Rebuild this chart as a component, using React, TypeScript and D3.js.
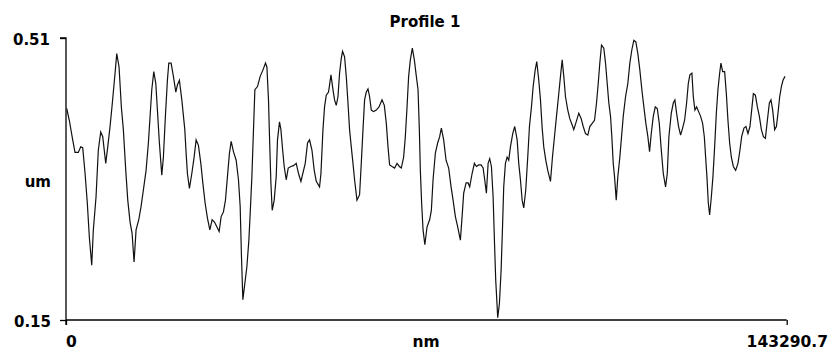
import React, { useRef, useEffect } from 'react';
import * as d3 from 'd3';

const chartTitle = 'Profile 1';
const xUnit = 'nm';
const yUnit = 'um';
const xDomain = [0, 143290.7];
const yDomain = [0.15, 0.51];
const xTickLabels = ['0', '143290.7'];
const yTickLabels = ['0.15', '0.51'];

// sample positions along the profile (nm)
const profileNm = [
  139, 657, 1333, 1791, 2448, 2926, 3324, 3781, 4239, 4637, 5115, 5433, 5970, 6428, 6906, 7304, 7901, 8299, 8757, 9214,
  9752, 10090, 10548, 11006, 11404, 11881, 12279, 12737, 13135, 13533, 13931, 14468, 14926, 15384, 15921, 16379, 16717, 17056, 17454, 17852,
  18250, 18569, 19046, 19365, 19762, 20160, 20439, 20897, 21354, 21832, 22150, 22548, 23026, 23623, 23882, 24141, 24539, 25016, 25474, 25872,
  26330, 26807, 27205, 27663, 28121, 28598, 29056, 29514, 29991, 30449, 30847, 31305, 31703, 32101, 32499, 32837, 33295, 33833, 34290, 34629,
  34887, 35166, 35564, 35962, 36360, 36619, 36957, 37276, 37554, 38072, 38609, 39147, 39664, 39943, 40261, 40460, 40739, 40997, 41395, 41793,
  42052, 42450, 42729, 43047, 43385, 43783, 44181, 44719, 45236, 45773, 46231, 46709, 47565, 48022, 48420, 48898, 49356, 49754, 50411, 50689,
  51087, 51406, 51744, 52202, 52680, 53078, 53396, 53734, 54073, 54391, 54729, 54988, 55386, 55724, 56063, 56381, 56719, 57058, 57376, 57854,
  58371, 58709, 59048, 59366, 59705, 60043, 60362, 60700, 61158, 61695, 62233, 62829, 63287, 63685, 64023, 64342, 64820, 65337, 65815, 66272,
  66670, 67128, 67466, 67805, 68123, 68461, 68859, 69257, 69655, 69994, 70252, 70451, 70710, 70989, 71348, 71785, 72303, 72640, 72979, 73437,
  73894, 74292, 74631, 75089, 75566, 76084, 76561, 76959, 77417, 77875, 78412, 78750, 79069, 79547, 79945, 80263, 80741, 81198, 81596, 82054,
  82532, 82930, 83248, 83586, 83925, 84243, 84581, 84920, 85178, 85437, 85835, 86173, 86512, 86771, 87029, 87368, 87706, 88025, 88363, 88821,
  89219, 89696, 90015, 90353, 90691, 91010, 91408, 91806, 92144, 92542, 92881, 93279, 93597, 93995, 94333, 94672, 94990, 95388, 95786, 96323,
  96721, 97119, 97517, 97915, 98313, 98652, 98970, 99308, 99766, 100164, 100642, 100960, 101438, 101955, 102433, 102831, 103289, 103747, 104145, 104622,
  105080, 105478, 105816, 106135, 106473, 106931, 107269, 107607, 107926, 108264, 108523, 108801, 109060, 109398, 109717, 110115, 110453, 110791, 111249, 111707,
  112105, 112503, 112901, 113299, 113697, 114095, 114493, 114891, 115289, 115687, 116026, 116364, 116762, 117160, 117558, 117956, 118354, 118752, 119210, 119548,
  119867, 120345, 120743, 121061, 121399, 121797, 122195, 122593, 122991, 123389, 123728, 124046, 124444, 124723, 125041, 125379, 125777, 126175, 126573, 126912,
  127171, 127429, 127708, 127967, 128305, 128624, 128962, 129300, 129619, 129957, 130216, 130554, 130952, 131291, 131609, 131947, 132285, 132683, 133141, 133599,
  133997, 134335, 134793, 135191, 135589, 135987, 136325, 136664, 137062, 137460, 137858, 138256, 138654, 139052, 139450, 139848, 140166, 140504, 140902, 141241,
  141559, 141897, 142236, 142554, 142952,
];

// surface height (um)
const profileUm = [
  0.420, 0.405, 0.380, 0.364, 0.364, 0.371, 0.370, 0.338, 0.299, 0.256, 0.220, 0.265, 0.307, 0.367, 0.390, 0.384, 0.350, 0.371, 0.397, 0.427,
  0.465, 0.490, 0.473, 0.422, 0.393, 0.341, 0.303, 0.275, 0.261, 0.224, 0.265, 0.278, 0.295, 0.316, 0.341, 0.376, 0.410, 0.444, 0.467, 0.452,
  0.410, 0.376, 0.335, 0.358, 0.410, 0.456, 0.478, 0.478, 0.461, 0.441, 0.450, 0.456, 0.431, 0.393, 0.363, 0.337, 0.318, 0.337, 0.358, 0.380,
  0.373, 0.350, 0.325, 0.299, 0.280, 0.265, 0.278, 0.275, 0.269, 0.263, 0.282, 0.288, 0.303, 0.333, 0.363, 0.378, 0.365, 0.354, 0.329, 0.295,
  0.231, 0.176, 0.197, 0.218, 0.252, 0.286, 0.333, 0.393, 0.444, 0.448, 0.461, 0.469, 0.478, 0.473, 0.431, 0.384, 0.325, 0.290, 0.303, 0.333,
  0.380, 0.403, 0.393, 0.369, 0.346, 0.329, 0.344, 0.346, 0.347, 0.350, 0.337, 0.327, 0.350, 0.376, 0.380, 0.367, 0.341, 0.327, 0.320, 0.337,
  0.393, 0.422, 0.437, 0.441, 0.463, 0.444, 0.431, 0.424, 0.435, 0.465, 0.484, 0.493, 0.486, 0.461, 0.427, 0.393, 0.371, 0.350, 0.329, 0.303,
  0.310, 0.350, 0.393, 0.431, 0.441, 0.445, 0.435, 0.418, 0.416, 0.418, 0.422, 0.431, 0.424, 0.401, 0.371, 0.348, 0.346, 0.344, 0.350, 0.346,
  0.344, 0.358, 0.384, 0.422, 0.461, 0.482, 0.497, 0.482, 0.461, 0.444, 0.393, 0.341, 0.299, 0.265, 0.246, 0.269, 0.278, 0.290, 0.329, 0.363,
  0.376, 0.384, 0.395, 0.380, 0.354, 0.344, 0.320, 0.303, 0.282, 0.269, 0.252, 0.282, 0.312, 0.325, 0.325, 0.320, 0.337, 0.350, 0.346, 0.348,
  0.348, 0.344, 0.329, 0.312, 0.350, 0.356, 0.346, 0.307, 0.252, 0.201, 0.153, 0.171, 0.214, 0.265, 0.320, 0.350, 0.358, 0.354, 0.371, 0.388,
  0.397, 0.380, 0.350, 0.329, 0.303, 0.293, 0.316, 0.358, 0.397, 0.422, 0.448, 0.469, 0.480, 0.456, 0.431, 0.395, 0.371, 0.354, 0.341, 0.327,
  0.358, 0.384, 0.410, 0.435, 0.461, 0.482, 0.461, 0.435, 0.418, 0.407, 0.399, 0.393, 0.403, 0.414, 0.407, 0.397, 0.388, 0.386, 0.397, 0.401,
  0.405, 0.427, 0.452, 0.478, 0.501, 0.497, 0.478, 0.452, 0.427, 0.410, 0.384, 0.350, 0.333, 0.303, 0.333, 0.358, 0.384, 0.410, 0.435, 0.452,
  0.478, 0.495, 0.507, 0.505, 0.490, 0.469, 0.444, 0.422, 0.401, 0.384, 0.365, 0.388, 0.410, 0.422, 0.420, 0.401, 0.367, 0.337, 0.320, 0.337,
  0.384, 0.414, 0.427, 0.431, 0.414, 0.397, 0.386, 0.395, 0.405, 0.427, 0.452, 0.463, 0.465, 0.435, 0.418, 0.422, 0.416, 0.410, 0.401, 0.384,
  0.358, 0.333, 0.299, 0.284, 0.307, 0.333, 0.371, 0.414, 0.444, 0.465, 0.478, 0.467, 0.467, 0.439, 0.405, 0.376, 0.358, 0.346, 0.341, 0.350,
  0.367, 0.384, 0.395, 0.397, 0.388, 0.397, 0.418, 0.439, 0.437, 0.422, 0.410, 0.393, 0.384, 0.382, 0.405, 0.427, 0.431, 0.418, 0.393, 0.397,
  0.414, 0.435, 0.448, 0.456, 0.461,
];

const width = 832;
const height = 353;
const margin = { top: 38, right: 45.3, bottom: 33, left: 66 };
const font = "'DejaVu Sans', sans-serif";

export default function App() {
  const svgRef = useRef<SVGSVGElement>(null);

  useEffect(() => {
    document.body.style.margin = '0';
    if (!svgRef.current) return;
    const svg = d3.select(svgRef.current);
    svg.selectAll('*').remove();

    const x = d3.scaleLinear().domain(xDomain).range([margin.left, width - margin.right]);
    const y = d3.scaleLinear().domain(yDomain).range([height - margin.bottom, margin.top]);

    svg.append('rect').attr('width', width).attr('height', height).attr('fill', '#fff');

    // title
    svg.append('text')
      .attr('x', 425).attr('y', 27)
      .attr('text-anchor', 'middle')
      .attr('font-family', font).attr('font-weight', 'bold').attr('font-size', 15)
      .attr('fill', '#000')
      .text(chartTitle);

    // y axis: just the line + end ticks, labels drawn below
    const yAxis = d3.axisLeft(y).tickValues(yDomain).tickSize(6).tickFormat(() => '');
    const gy = svg.append('g').attr('transform', `translate(${margin.left},0)`).call(yAxis);
    gy.select('.domain').attr('d', `M-6,${y(yDomain[1])}H0V${height - margin.bottom + 5}`);

    const xAxis = d3.axisBottom(x).tickValues(xDomain).tickSize(5).tickFormat(() => '');
    const gx = svg.append('g').attr('transform', `translate(0,${height - margin.bottom})`).call(xAxis);
    gx.select('.domain').attr('d', `M${x(xDomain[0])},0H${x(xDomain[1])}`);

    svg.selectAll('.domain, .tick line').attr('stroke', '#000').attr('stroke-width', 1.3);

    const label = (tx: number, ty: number, anchor: string, txt: string, size = 15) =>
      svg.append('text')
        .attr('x', tx).attr('y', ty)
        .attr('text-anchor', anchor)
        .attr('font-family', font).attr('font-weight', 'bold').attr('font-size', size)
        .attr('fill', '#000')
        .text(txt);

    label(50, y(yDomain[1]) + 7, 'end', yTickLabels[1]);
    label(51, y(yDomain[0]) + 7, 'end', yTickLabels[0]);
    label(51, 187, 'end', yUnit);

    label(x(xDomain[0]), 347, 'start', xTickLabels[0], 15.5);
    label(426, 347, 'middle', xUnit, 15.5);
    label(828, 347, 'end', xTickLabels[1], 15.5);

    const pts: [number, number][] = profileNm.map((d, i) => [d, profileUm[i]]);
    const line = d3.line<[number, number]>().x(d => x(d[0])).y(d => y(d[1]));

    svg.append('path')
      .datum(pts)
      .attr('fill', 'none')
      .attr('stroke', '#111')
      .attr('stroke-width', 1.2)
      .attr('stroke-linejoin', 'miter')
      .attr('d', line);
  }, []);

  return (
    <svg
      ref={svgRef}
      width={width}
      height={height}
      style={{ position: 'absolute', left: 0, top: 0, display: 'block' }}
    />
  );
}
